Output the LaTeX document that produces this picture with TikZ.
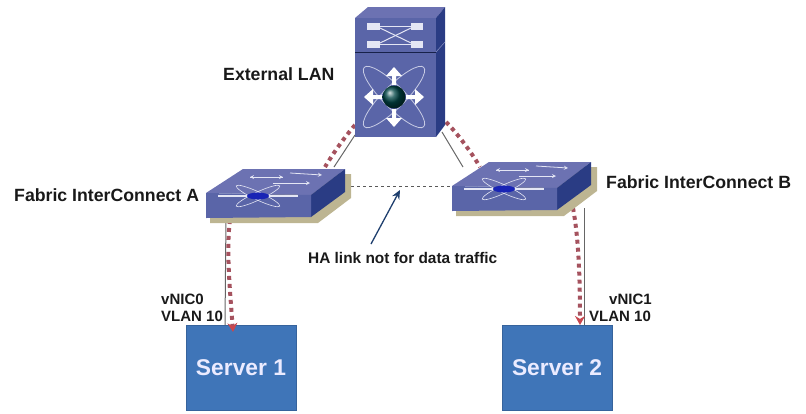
\documentclass[tikz,border=0pt]{standalone}
\usepackage{fontspec}
\setmainfont{Liberation Sans}
\usetikzlibrary{arrows.meta}
\definecolor{face_blue}{HTML}{5A65A8}
\definecolor{top_blue}{HTML}{6C72B2}
\definecolor{side_blue}{HTML}{2A3C84}
\definecolor{shadow_tan}{HTML}{BDB592}
\definecolor{icon_white}{HTML}{E4E6F4}
\definecolor{traffic_red}{HTML}{A5525E}
\definecolor{tip_red}{HTML}{C8474F}
\definecolor{server_blue}{HTML}{3F75B8}
\definecolor{pointer_navy}{HTML}{1F3F6E}

\begin{document}
\begin{tikzpicture}[
        x=1pt,y=-1pt,
        label_text/.style={font=\bfseries\fontsize{17.7}{20}\selectfont,text=black!90,inner sep=0pt,align=left},
        small_text/.style={font=\bfseries\fontsize{15}{17}\selectfont,text=black!90,inner sep=0pt,align=left},
        server_box/.style={rectangle,fill=server_blue,draw=server_blue!85!black,line width=0.5pt,minimum width=110pt,minimum height=85pt,inner sep=0pt,text=white!92!blue,font=\bfseries\fontsize{22.8}{26}\selectfont},
        thin_link/.style={draw=black!60,line width=1pt},
        data_path/.style={draw=traffic_red,line width=4pt,dash pattern=on 4pt off 4pt},
        data_tip/.style={-{Stealth[length=9pt,width=10pt,color=tip_red]}}
    ]
    \useasboundingbox (0,0) rectangle (806,413);

    % Servers
    \node[server_box] (server_one) at (241,367.5) {Server 1};
    \node[server_box] (server_two) at (557,367.5) {Server 2};

    % Link end points
    \coordinate (lan_thin_a) at (355,135);
    \coordinate (lan_thin_b) at (442,132);
    \coordinate (lan_data_a) at (355,125);
    \coordinate (lan_data_b) at (446,122);
    \coordinate (fi_a_thin) at (334,167);
    \coordinate (fi_b_thin) at (463,167);
    \coordinate (fi_a_data) at (325,167);
    \coordinate (fi_b_data) at (480,167);
    \coordinate (fi_a_ha) at (345,186);
    \coordinate (fi_b_ha) at (452,186);
    \coordinate (fi_a_down) at (226,215);
    \coordinate (fi_b_down) at (584,208);
    \coordinate (fi_a_path) at (230,220);
    \coordinate (fi_b_path) at (573,208);
    \coordinate (server_one_in) at (225,325);
    \coordinate (server_two_in) at (584,325);
    \coordinate (server_one_path) at (233,332);
    \coordinate (server_two_path) at (580,325);

    % Links
    \draw[thin_link] (lan_thin_a) -- (fi_a_thin);
    \draw[thin_link] (lan_thin_b) -- (fi_b_thin);
    \draw[data_path] (lan_data_a) .. controls (344,138) and (334,152) .. (fi_a_data);
    \draw[data_path] (lan_data_b) .. controls (456,132) and (470,150) .. (fi_b_data);
    \draw[thin_link] (fi_a_down) -- (server_one_in);
    \draw[thin_link] (fi_b_down) -- (server_two_in);
    \draw[data_path,data_tip] (fi_a_path) .. controls (226,250) and (230,290) .. (server_one_path);
    \draw[data_path,data_tip] (fi_b_path) .. controls (578,235) and (580,270) .. (server_two_path);
    \draw[draw=black!65,line width=0.7pt,dashed] (fi_a_ha) -- (fi_b_ha);

    % External LAN switch
    \fill[top_blue] (355,18) -- (368,7) -- (445,7) -- (436,18) -- cycle;
    \fill[side_blue] (436,18) -- (445,7) -- (445,125) -- (436,137) -- cycle;
    \fill[face_blue] (355,18) rectangle (436,137);
    \draw[black!45!side_blue,line width=0.8pt] (355,52) -- (436,52);
    \draw[face_blue!70!white,line width=0.5pt] (436,52) -- (445,42);
    % top icon
    \foreach \y in {23,41}
    {
        \fill[icon_white] (367,\y) rectangle (380,\y+7);
        \fill[icon_white] (411,\y) rectangle (423,\y+7);
    }
    \draw[icon_white,line width=1pt] (380,26) -- (411,26);
    \draw[icon_white,line width=1pt] (380,44) -- (411,44);
    \draw[icon_white,line width=1pt] (380,28) -- (411,43);
    \draw[icon_white,line width=1pt] (380,43) -- (411,28);
    % bottom icon
    \draw[icon_white!80!face_blue,line width=0.8pt,rotate around={45:(394,97)}] (394,97) ellipse (42 and 11);
    \draw[icon_white!80!face_blue,line width=0.8pt,rotate around={-45:(394,97)}] (394,97) ellipse (42 and 11);
    \foreach \a in {0,90,180,270}
        \fill[white,rotate around={\a:(394,97)}] (406,95) -- (415,95) -- (415,89) -- (424,97) -- (415,105) -- (415,99) -- (406,99) -- cycle;
    \shade[ball color=teal!55!black] (394,97) circle (11.5);

    % Fabric switches
    \foreach \sw/\px/\py in {fi_a/206/193,fi_b/452/186}
    {
        \begin{scope}[shift={(\px,\py)}]
            \fill[shadow_tan] (4,20) -- (4,30) -- (112,30) -- (145,5) -- (145,-19) -- (130,-19) -- cycle;
            \fill[top_blue] (0,0) -- (37,-24) -- (139,-24) -- (105,2) -- cycle;
            \fill[side_blue] (139,-24) -- (139,-1) -- (105,24) -- (105,2) -- cycle;
            \fill[face_blue] (0,0) -- (105,2) -- (105,24) -- (0,25) -- cycle;
            % top arrows
            \draw[icon_white,line width=0.8pt,-stealth] (44,-16) -- (77,-16);
            \draw[icon_white,line width=0.8pt,stealth-] (44,-16) -- (77,-16);
            \draw[icon_white,line width=0.8pt,-stealth] (84,-20) -- (116,-18);
            \draw[icon_white,line width=0.8pt,-stealth] (67,-10) -- (104,-10);
            % center icon
            \draw[icon_white,line width=1.2pt] (12,3) -- (92,3);
            \draw[icon_white,line width=0.6pt,rotate around={25:(52,3)}] (52,3) ellipse (24 and 4);
            \draw[icon_white,line width=0.6pt,rotate around={-25:(52,3)}] (52,3) ellipse (24 and 4);
            \fill[side_blue!60!blue] (52,3) ellipse (11 and 3.5);
            \coordinate (\sw_center) at (52,3);
        \end{scope}
    }

    % Labels
    \node[label_text,anchor=west] (lan_label) at (223,74) {External LAN};
    \node[label_text,anchor=west] (fi_a_label) at (14,195) {Fabric InterConnect A};
    \node[label_text,anchor=west] (fi_b_label) at (606,182) {Fabric InterConnect B};
    \node[small_text,anchor=west] (ha_label) at (308,258) {\fontsize{15.4}{17}\selectfont HA link not for data traffic};
    \node[small_text,anchor=west] (vnic_zero) at (161,299) {vNIC0};
    \node[small_text,anchor=west] (vlan_one) at (161,316) {VLAN 10};
    \node[small_text,anchor=west] (vnic_one) at (609,299) {vNIC1};
    \node[small_text,anchor=west] (vlan_two) at (589,316) {VLAN 10};

    % HA pointer
    \coordinate (ha_mark) at (400,190);
    \draw[draw=pointer_navy,line width=1.3pt,-{Stealth[length=9pt,width=8pt]}] (371,244) -- (ha_mark);

\end{tikzpicture}
\end{document}
